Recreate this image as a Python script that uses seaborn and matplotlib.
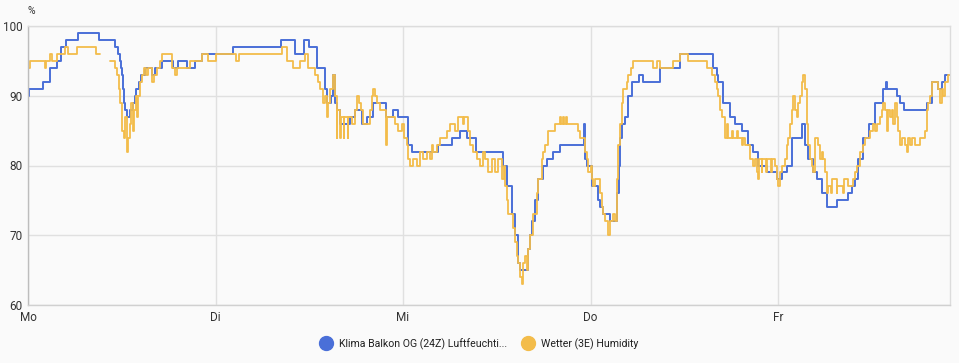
import numpy as np
import pandas as pd
import matplotlib
matplotlib.use("Agg")
import matplotlib.pyplot as plt
from matplotlib.lines import Line2D
import seaborn as sns

# ---- data (hours since Monday 00:00, relative humidity %) ----
day_labels = ["Mo", "Di", "Mi", "Do", "Fr"]
day_ticks = [0, 24, 48, 72, 96]

blue_name = "Klima Balkon OG (24Z) Luftfeuchti..."
blue_hours = [0.0, 0.1, 1.9, 2.8, 3.7, 4.2, 4.9, 6.4, 9.1, 11.1, 11.5, 11.8, 11.9, 12.0, 12.2,
              12.3, 12.4, 12.7, 13.1, 13.4, 13.7, 13.8, 14.2, 14.5, 15.0, 15.9, 16.3, 17.2, 18.6,
              19.2, 20.4, 21.4, 22.3, 26.2, 32.4, 34.2, 35.3, 36.0, 37.0, 38.0, 38.3, 38.8, 39.0,
              39.3, 39.6, 39.9, 41.2, 41.9, 42.8, 43.4, 44.2, 45.8, 46.7, 47.4, 48.6, 49.2, 52.5,
              54.3, 55.3, 56.2, 57.3, 60.8, 61.3, 62.0, 62.3, 62.7, 63.0, 64.0, 64.3, 64.5, 64.9,
              65.3, 65.9, 66.4, 67.2, 68.1, 71.2, 71.3, 71.6, 72.2, 73.0, 73.2, 73.6, 74.5, 75.4,
              75.6, 75.8, 76.0, 76.4, 76.8, 77.3, 78.2, 78.7, 80.9, 83.5, 87.7, 88.2, 88.3, 89.0,
              89.9, 90.5, 91.4, 92.2, 92.8, 93.4, 94.6, 95.9, 96.5, 97.2, 97.8, 99.1, 99.5, 99.8,
              100.5, 101.0, 101.6, 102.3, 103.6, 105.0, 105.5, 105.9, 106.2, 106.9, 107.6, 108.4,
              109.4, 109.8, 110.0, 111.2, 111.6, 112.1, 115.1, 115.7, 116.5, 117.0, 117.4, 118.0]
blue_values = [90, 91, 92, 94, 95, 97, 98, 99, 98, 97, 96, 95, 94, 93, 91,
               89, 88, 87, 88, 89, 90, 91, 92, 93, 94, 93, 94, 95, 94,
               95, 94, 95, 96, 97, 98, 96, 98, 97, 94, 91, 89, 90, 93,
               89, 88, 86, 87, 88, 86, 87, 89, 87, 88, 87, 83, 82, 83,
               84, 85, 84, 82, 80, 77, 73, 70, 66, 65, 68, 70, 72, 75,
               78, 80, 81, 82, 83, 86, 81, 80, 77, 75, 74, 73, 72, 76,
               80, 84, 86, 87, 90, 92, 93, 92, 94, 96, 94, 93, 92, 89,
               87, 86, 85, 83, 82, 80, 79, 78, 79, 80, 84, 86, 83, 81,
               79, 78, 76, 74, 75, 76, 77, 78, 81, 84, 86, 89,
               91, 92, 91, 90, 89, 88, 89, 92, 91, 92, 93, 93]

orange_name = "Wetter (3E) Humidity"
orange_hours_a = [0.0, 0.3, 2.2, 2.3, 2.8, 3.1, 3.7, 4.7, 5.1, 6.3, 8.7, 9.2]
orange_values_a = [94, 95, 94, 95, 96, 95, 96, 97, 96, 97, 96, 96]
orange_hours_b = [10.5, 11.1, 11.4, 11.6, 11.8, 12.0, 12.3, 12.4, 12.7, 12.8, 13.1, 13.2, 13.4,
                  13.6, 13.8, 14.0, 14.1, 14.3, 14.6, 14.8, 15.1, 15.4, 15.9, 16.1, 16.5, 16.9,
                  17.2, 18.4, 18.8, 19.1, 20.7, 22.3, 23.0, 24.1, 26.6, 27.0, 32.5, 33.2, 33.9,
                  34.8, 35.5, 35.8, 36.7, 37.1, 37.4, 37.8, 38.0, 38.3, 38.4, 38.7, 39.0, 39.3,
                  39.5, 39.6, 39.9, 40.0, 40.4, 40.5, 40.9, 41.0, 41.5, 41.9, 42.1, 42.4, 42.6,
                  42.9, 43.8, 44.0, 44.2, 44.4, 44.7, 45.1, 45.8, 46.0, 47.0, 47.4, 47.9, 48.1,
                  48.5, 48.6, 48.9, 49.3, 49.8, 50.2, 50.6, 51.1, 51.5, 51.7, 51.8, 52.4, 52.7,
                  53.6, 54.0, 54.7, 55.0, 55.7, 55.8, 56.2, 56.3, 56.6, 57.0, 57.5, 57.9, 58.2,
                  58.5, 58.9, 59.4, 59.8, 60.2, 60.7, 60.9, 61.1, 61.3, 61.4, 62.1, 62.3, 62.6,
                  62.7, 63.0, 63.2, 63.4, 63.6, 63.9, 64.0, 64.3, 64.6, 65.2, 65.3, 65.8, 65.9,
                  66.2, 66.6, 67.5, 68.1, 68.2, 68.5, 68.6, 68.9, 69.0, 70.4, 70.7, 71.3, 71.6,
                  71.7, 72.0, 72.2, 72.3, 72.6, 73.2, 73.5, 73.6, 73.9, 74.2, 74.5, 74.9, 75.1,
                  75.4, 75.5, 75.8, 76.0, 76.2, 76.7, 76.8, 77.2, 77.4, 80.0, 80.5, 80.9, 82.6,
                  83.5, 84.5, 86.9, 87.6, 87.9, 88.2, 88.3, 88.6, 88.8, 89.2, 89.5, 89.6, 90.1,
                  90.2, 90.8, 90.9, 91.4, 91.5, 91.8, 92.4, 92.8, 93.1, 93.3, 93.4, 93.5, 93.9,
                  94.0, 94.5, 94.6, 95.1, 95.2, 95.6, 95.9, 96.0, 96.3, 96.5, 96.9, 97.2, 97.3,
                  97.5, 97.8, 97.9, 98.2, 98.4, 98.6, 98.8, 99.1, 99.2, 99.5, 99.7, 99.8, 100.1,
                  100.4, 100.5, 100.7, 101.1, 101.4, 101.6, 101.8, 102.0, 102.3, 102.4, 102.8,
                  102.9, 103.5, 103.6, 104.3, 104.4, 105.0, 105.6, 105.9, 106.1, 106.5, 106.9,
                  107.1, 107.8, 108.2, 108.4, 108.7, 109.1, 109.3, 109.4, 109.7, 110.0, 110.1,
                  110.3, 110.6, 110.7, 111.0, 111.2, 111.4, 111.6, 111.9, 112.3, 112.5, 112.6,
                  112.9, 113.2, 113.5, 114.2, 114.8, 115.1, 115.2, 115.5, 115.7, 116.5, 116.7,
                  117.0, 117.1, 117.4, 117.8, 118.0]
orange_values_b = [95, 94, 93, 91, 89, 85, 84, 87, 82, 84, 86, 89, 85,
                   88, 90, 87, 90, 92, 93, 94, 93, 94, 92, 93, 94, 95,
                   96, 94, 93, 94, 95, 96, 95, 96, 95, 96, 97, 95, 94,
                   95, 96, 94, 93, 92, 91, 89, 90, 87, 89, 91, 93, 90,
                   84, 88, 84, 87, 84, 87, 84, 87, 86, 88, 90, 89, 88,
                   86, 88, 90, 91, 90, 89, 88, 83, 87, 86, 85, 86, 84,
                   83, 81, 80, 81, 80, 82, 81, 82, 81, 83, 82, 83, 84,
                   85, 86, 85, 87, 86, 87, 87, 85, 83, 82, 81, 80, 82,
                   81, 79, 81, 79, 81, 78, 80, 77, 75, 73, 71, 69, 67,
                   66, 64, 63, 66, 67, 65, 68, 70, 73, 76, 78, 81, 82,
                   83, 85, 86, 87, 86, 87, 86, 87, 86, 85, 84, 82, 81,
                   79, 80, 78, 77, 78, 76, 74, 73, 72, 70, 72, 73, 72,
                   78, 83, 86, 89, 91, 92, 93, 94, 95, 94, 95, 94, 95,
                   96, 95, 94, 93, 92, 91, 90, 88, 87, 84, 86, 84, 85,
                   84, 85, 84, 83, 84, 83, 81, 80, 81, 79, 78, 81, 79,
                   81, 79, 81, 79, 81, 80, 78, 77, 79, 80, 81, 83, 84,
                   86, 88, 90, 88, 87, 89, 90, 92, 93, 91, 86, 83, 81,
                   80, 79, 84, 83, 81, 82, 81, 79, 76, 77, 76,
                   78, 76, 77, 76, 78, 77, 78, 79, 80, 82, 83,
                   84, 85, 86, 85, 86, 87, 88, 89, 88, 85, 88,
                   87, 88, 86, 89, 87, 85, 83, 84, 83, 82, 84,
                   83, 84, 83, 84, 85, 88, 89, 90, 92, 91, 89,
                   91, 90, 92, 93, 93]

blue_color = "#4a6fd8"
orange_color = "#f3bc4a"

blue_df = pd.DataFrame({"hours": blue_hours, "value": blue_values})
orange_df = pd.concat([
    pd.DataFrame({"hours": orange_hours_a, "value": orange_values_a, "seg": 0}),
    pd.DataFrame({"hours": orange_hours_b, "value": orange_values_b, "seg": 1}),
], ignore_index=True)

sns.set_theme(style="whitegrid")
plt.rcParams["font.family"] = ["Roboto", "DejaVu Sans"]

fig = plt.figure(figsize=(9.59, 3.63), dpi=100, facecolor="#fafafa")
ax = fig.add_axes([28 / 959, 1 - 305 / 363, (950 - 28) / 959, (305 - 26) / 363])
ax.set_facecolor("#fafafa")

sns.lineplot(data=blue_df, x="hours", y="value", ax=ax, color=blue_color,
             drawstyle="steps-post", linewidth=1.4, estimator=None, sort=False)
sns.lineplot(data=orange_df, x="hours", y="value", units="seg", ax=ax, color=orange_color,
             drawstyle="steps-post", linewidth=1.3, estimator=None, sort=False)

ax.set_xlim(0, 118.0)
ax.set_ylim(60, 100)
ax.set_yticks([60, 70, 80, 90, 100])
ax.set_xticks(day_ticks)
ax.set_xticklabels(day_labels)
ax.set_xlabel("")
ax.set_ylabel("")
ax.grid(True, color="#e0e0e0", linewidth=1)
for side, sp in ax.spines.items():
    sp.set_visible(True)
    sp.set_color("#dcdcdc")
    sp.set_linewidth(1)
ax.spines["left"].set_color("#bdbdbd")
ax.spines["bottom"].set_color("#d0d0d0")
ax.tick_params(axis="both", length=0, labelsize=8.5, colors="#333333")
ax.tick_params(axis="y", pad=4)
ax.tick_params(axis="x", pad=4)

ax.text(0.0, 1.035, "%", transform=ax.transAxes, ha="left", va="bottom",
        fontsize=7.5, color="#333333")

handles = [
    Line2D([], [], marker="o", linestyle="", markersize=10,
           markerfacecolor=blue_color, markeredgecolor=blue_color, label=blue_name),
    Line2D([], [], marker="o", linestyle="", markersize=10,
           markerfacecolor=orange_color, markeredgecolor=orange_color, label=orange_name),
]
fig.legend(handles=handles, loc="center", bbox_to_anchor=(0.5, 1 - 344 / 363), ncol=2,
           frameon=False, fontsize=7.6, handlelength=1.0, handletextpad=0.75,
           columnspacing=1.5, labelcolor="#212121")

fig.savefig("out.png", dpi=100, facecolor=fig.get_facecolor())
